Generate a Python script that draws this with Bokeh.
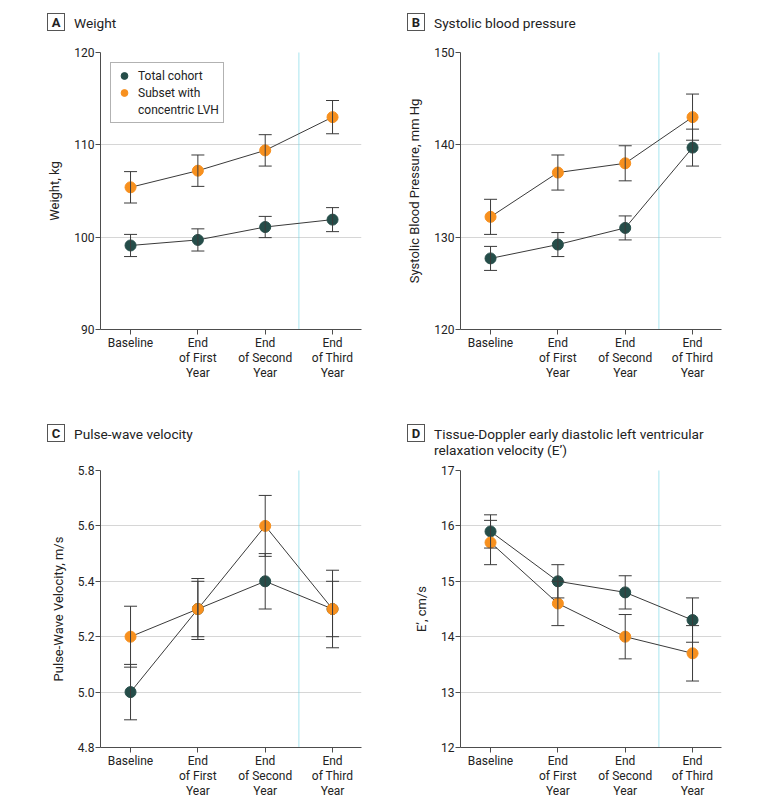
from bokeh.plotting import figure
from bokeh.models import (ColumnDataSource, Whisker, TeeHead, Legend, LegendItem,
                          Span, FixedTicker, Range1d, NumeralTickFormatter, Div)
from bokeh.layouts import column, row
from bokeh.embed import file_html
from bokeh.resources import INLINE

# ---------------- data ----------------
categories = ["Baseline", "End\nof First\nYear", "End\nof Second\nYear", "End\nof Third\nYear"]
x_pos = [0, 1, 2, 3]

weight_total = [99.1, 99.7, 101.1, 101.9]
weight_total_err = [1.2, 1.2, 1.15, 1.3]
weight_lvh = [105.4, 107.2, 109.4, 113.0]
weight_lvh_err = [1.7, 1.7, 1.7, 1.8]

sbp_total = [127.7, 129.2, 131.0, 139.7]
sbp_total_err = [1.3, 1.3, 1.3, 2.0]
sbp_lvh = [132.2, 137.0, 138.0, 143.0]
sbp_lvh_err = [1.9, 1.9, 1.9, 2.5]

pwv_total = [5.0, 5.3, 5.4, 5.3]
pwv_total_err = [0.1, 0.1, 0.1, 0.1]
pwv_lvh = [5.2, 5.3, 5.6, 5.3]
pwv_lvh_err = [0.11, 0.11, 0.11, 0.14]

e_total = [15.9, 15.0, 14.8, 14.3]
e_total_err = [0.3, 0.3, 0.3, 0.4]
e_lvh = [15.7, 14.6, 14.0, 13.7]
e_lvh_err = [0.4, 0.4, 0.4, 0.5]

weight_ticks = [90, 100, 110, 120]
sbp_ticks = [120, 130, 140, 150]
pwv_ticks = [4.8, 5.0, 5.2, 5.4, 5.6, 5.8]
e_ticks = [12, 13, 14, 15, 16, 17]

# ---------------- style ----------------
FONT = "Roboto"
TEAL = "#254d49"
ORANGE = "#f7901e"
LINE = "#3a3a3a"
TEXT = "#222222"
AXIS = "#4d4d4d"
GRID = "#d6d6d6"
CYAN = "#6fd3e3"


def title_div(letter, lines, width, height, left, box_top, first_center):
    html = (f'<div style="position:relative;width:{width}px;height:{height}px;'
            f'font-family:Roboto, sans-serif;color:{TEXT};">')
    html += (f'<div style="position:absolute;left:{left}px;top:{box_top}px;width:18px;'
             f'height:18px;border:1px solid #555;text-align:center;line-height:18px;'
             f'font-weight:bold;font-size:13px;">{letter}</div>')
    for i, t in enumerate(lines):
        c = first_center + 16 * i
        html += (f'<div style="position:absolute;left:{left + 27}px;top:{c - 9}px;'
                 f'font-size:13.7px;line-height:18px;white-space:nowrap;">{t}</div>')
    html += '</div>'
    return Div(text=html, width=width, height=height, margin=0)


def make_panel(ylabel, yticks, total, total_err, lvh, lvh_err,
               width, left, height, bottom, legend=False, fmt=None):
    p = figure(width=width, height=height, output_backend="svg", toolbar_location=None,
               x_range=Range1d(-0.446, 3.43), y_range=Range1d(yticks[0], yticks[-1]),
               min_border_left=left, min_border_right=width - left - 261,
               min_border_top=8, min_border_bottom=bottom, margin=0)
    p.outline_line_color = None
    p.background_fill_color = "white"
    p.border_fill_color = "white"
    p.xgrid.grid_line_color = None
    p.ygrid.grid_line_color = GRID
    p.ygrid.grid_line_width = 1

    p.yaxis.ticker = FixedTicker(ticks=yticks)
    if fmt:
        p.yaxis.formatter = NumeralTickFormatter(format=fmt)
    p.xaxis.ticker = FixedTicker(ticks=x_pos)
    p.xaxis.major_label_overrides = {x: c for x, c in zip(x_pos, categories)}

    for ax in (p.xaxis[0], p.yaxis[0]):
        ax.axis_line_color = AXIS
        ax.major_tick_line_color = AXIS
        ax.minor_tick_line_color = None
        ax.major_tick_out = 5
        ax.major_tick_in = 0
        ax.major_label_standoff = 1
        ax.major_label_text_font = FONT
        ax.major_label_text_font_size = "12px"
        ax.major_label_text_color = TEXT
        ax.major_label_text_line_height = 1.1
    p.yaxis.axis_label = ylabel
    p.yaxis.axis_label_text_font = FONT
    p.yaxis.axis_label_text_font_size = "13px"
    p.yaxis.axis_label_text_font_style = "normal"
    p.yaxis.axis_label_text_color = TEXT
    p.yaxis.axis_label_standoff = 9

    p.add_layout(Span(location=2.5, dimension="height", line_color=CYAN,
                      line_dash="1 1", line_width=1.2, level="underlay"))

    src_t = ColumnDataSource(dict(x=x_pos, y=total,
                                  lo=[v - e for v, e in zip(total, total_err)],
                                  hi=[v + e for v, e in zip(total, total_err)]))
    src_l = ColumnDataSource(dict(x=x_pos, y=lvh,
                                  lo=[v - e for v, e in zip(lvh, lvh_err)],
                                  hi=[v + e for v, e in zip(lvh, lvh_err)]))

    p.line("x", "y", source=src_t, line_color=LINE, line_width=1)
    p.line("x", "y", source=src_l, line_color=LINE, line_width=1)
    for src in (src_t, src_l):
        p.add_layout(Whisker(source=src, base="x", upper="hi", lower="lo",
                             dimension="height", line_color=LINE, line_width=1,
                             upper_head=TeeHead(size=13, line_color=LINE, line_width=1),
                             lower_head=TeeHead(size=13, line_color=LINE, line_width=1),
                             level="glyph"))
    r_t = p.scatter("x", "y", source=src_t, size=11, fill_color=TEAL, line_color=TEAL)
    r_l = p.scatter("x", "y", source=src_l, size=11, fill_color=ORANGE, line_color=ORANGE)

    if legend:
        r_blank = p.scatter([0], [yticks[0] - 100], size=11, fill_alpha=0, line_alpha=0)
        leg = Legend(items=[LegendItem(label="Total cohort", renderers=[r_t]),
                            LegendItem(label="Subset with", renderers=[r_l]),
                            LegendItem(label="concentric LVH", renderers=[r_blank])],
                     location="top_left", margin=10, padding=4, spacing=0,
                     glyph_width=18, glyph_height=17, label_height=17,
                     label_standoff=5, label_text_font=FONT, label_text_font_size="12px",
                     label_text_color=TEXT, border_line_color="#666666",
                     border_line_width=1, background_fill_color="white",
                     background_fill_alpha=1)
        p.add_layout(leg)
    return p


# row 1: title strip 44px, figure 365px (frame top at 52, bottom at 329)
tA = title_div("A", ["Weight"], 368, 44, 47, 13, 23)
tB = title_div("B", ["Systolic blood pressure"], 360, 44, 39, 13, 23)
pA = make_panel("Weight, kg", weight_ticks, weight_total, weight_total_err,
                weight_lvh, weight_lvh_err, 368, 100, 365, 80, legend=True)
pB = make_panel("Systolic Blood Pressure, mm Hg", sbp_ticks, sbp_total, sbp_total_err,
                sbp_lvh, sbp_lvh_err, 360, 92, 365, 80)

# row 2: title strip 53px, figure 340px (frame top at 470, bottom at 747)
tC = title_div("C", ["Pulse-wave velocity"], 368, 53, 47, 15, 25)
tD = title_div("D", ["Tissue-Doppler early diastolic left ventricular",
                     "relaxation velocity (E\u2019)"], 360, 53, 39, 15, 25)
pC = make_panel("Pulse-Wave Velocity, m/s", pwv_ticks, pwv_total, pwv_total_err,
                pwv_lvh, pwv_lvh_err, 368, 100, 340, 55, fmt="0.0")
pD = make_panel("E\u2019, cm/s", e_ticks, e_total, e_total_err, e_lvh, e_lvh_err,
                360, 92, 340, 55)

layout = column(row(tA, tB, spacing=0), row(pA, pB, spacing=0),
                row(tC, tD, spacing=0), row(pC, pD, spacing=0), spacing=0)

open("out.html", "w").write(file_html(layout, INLINE))
